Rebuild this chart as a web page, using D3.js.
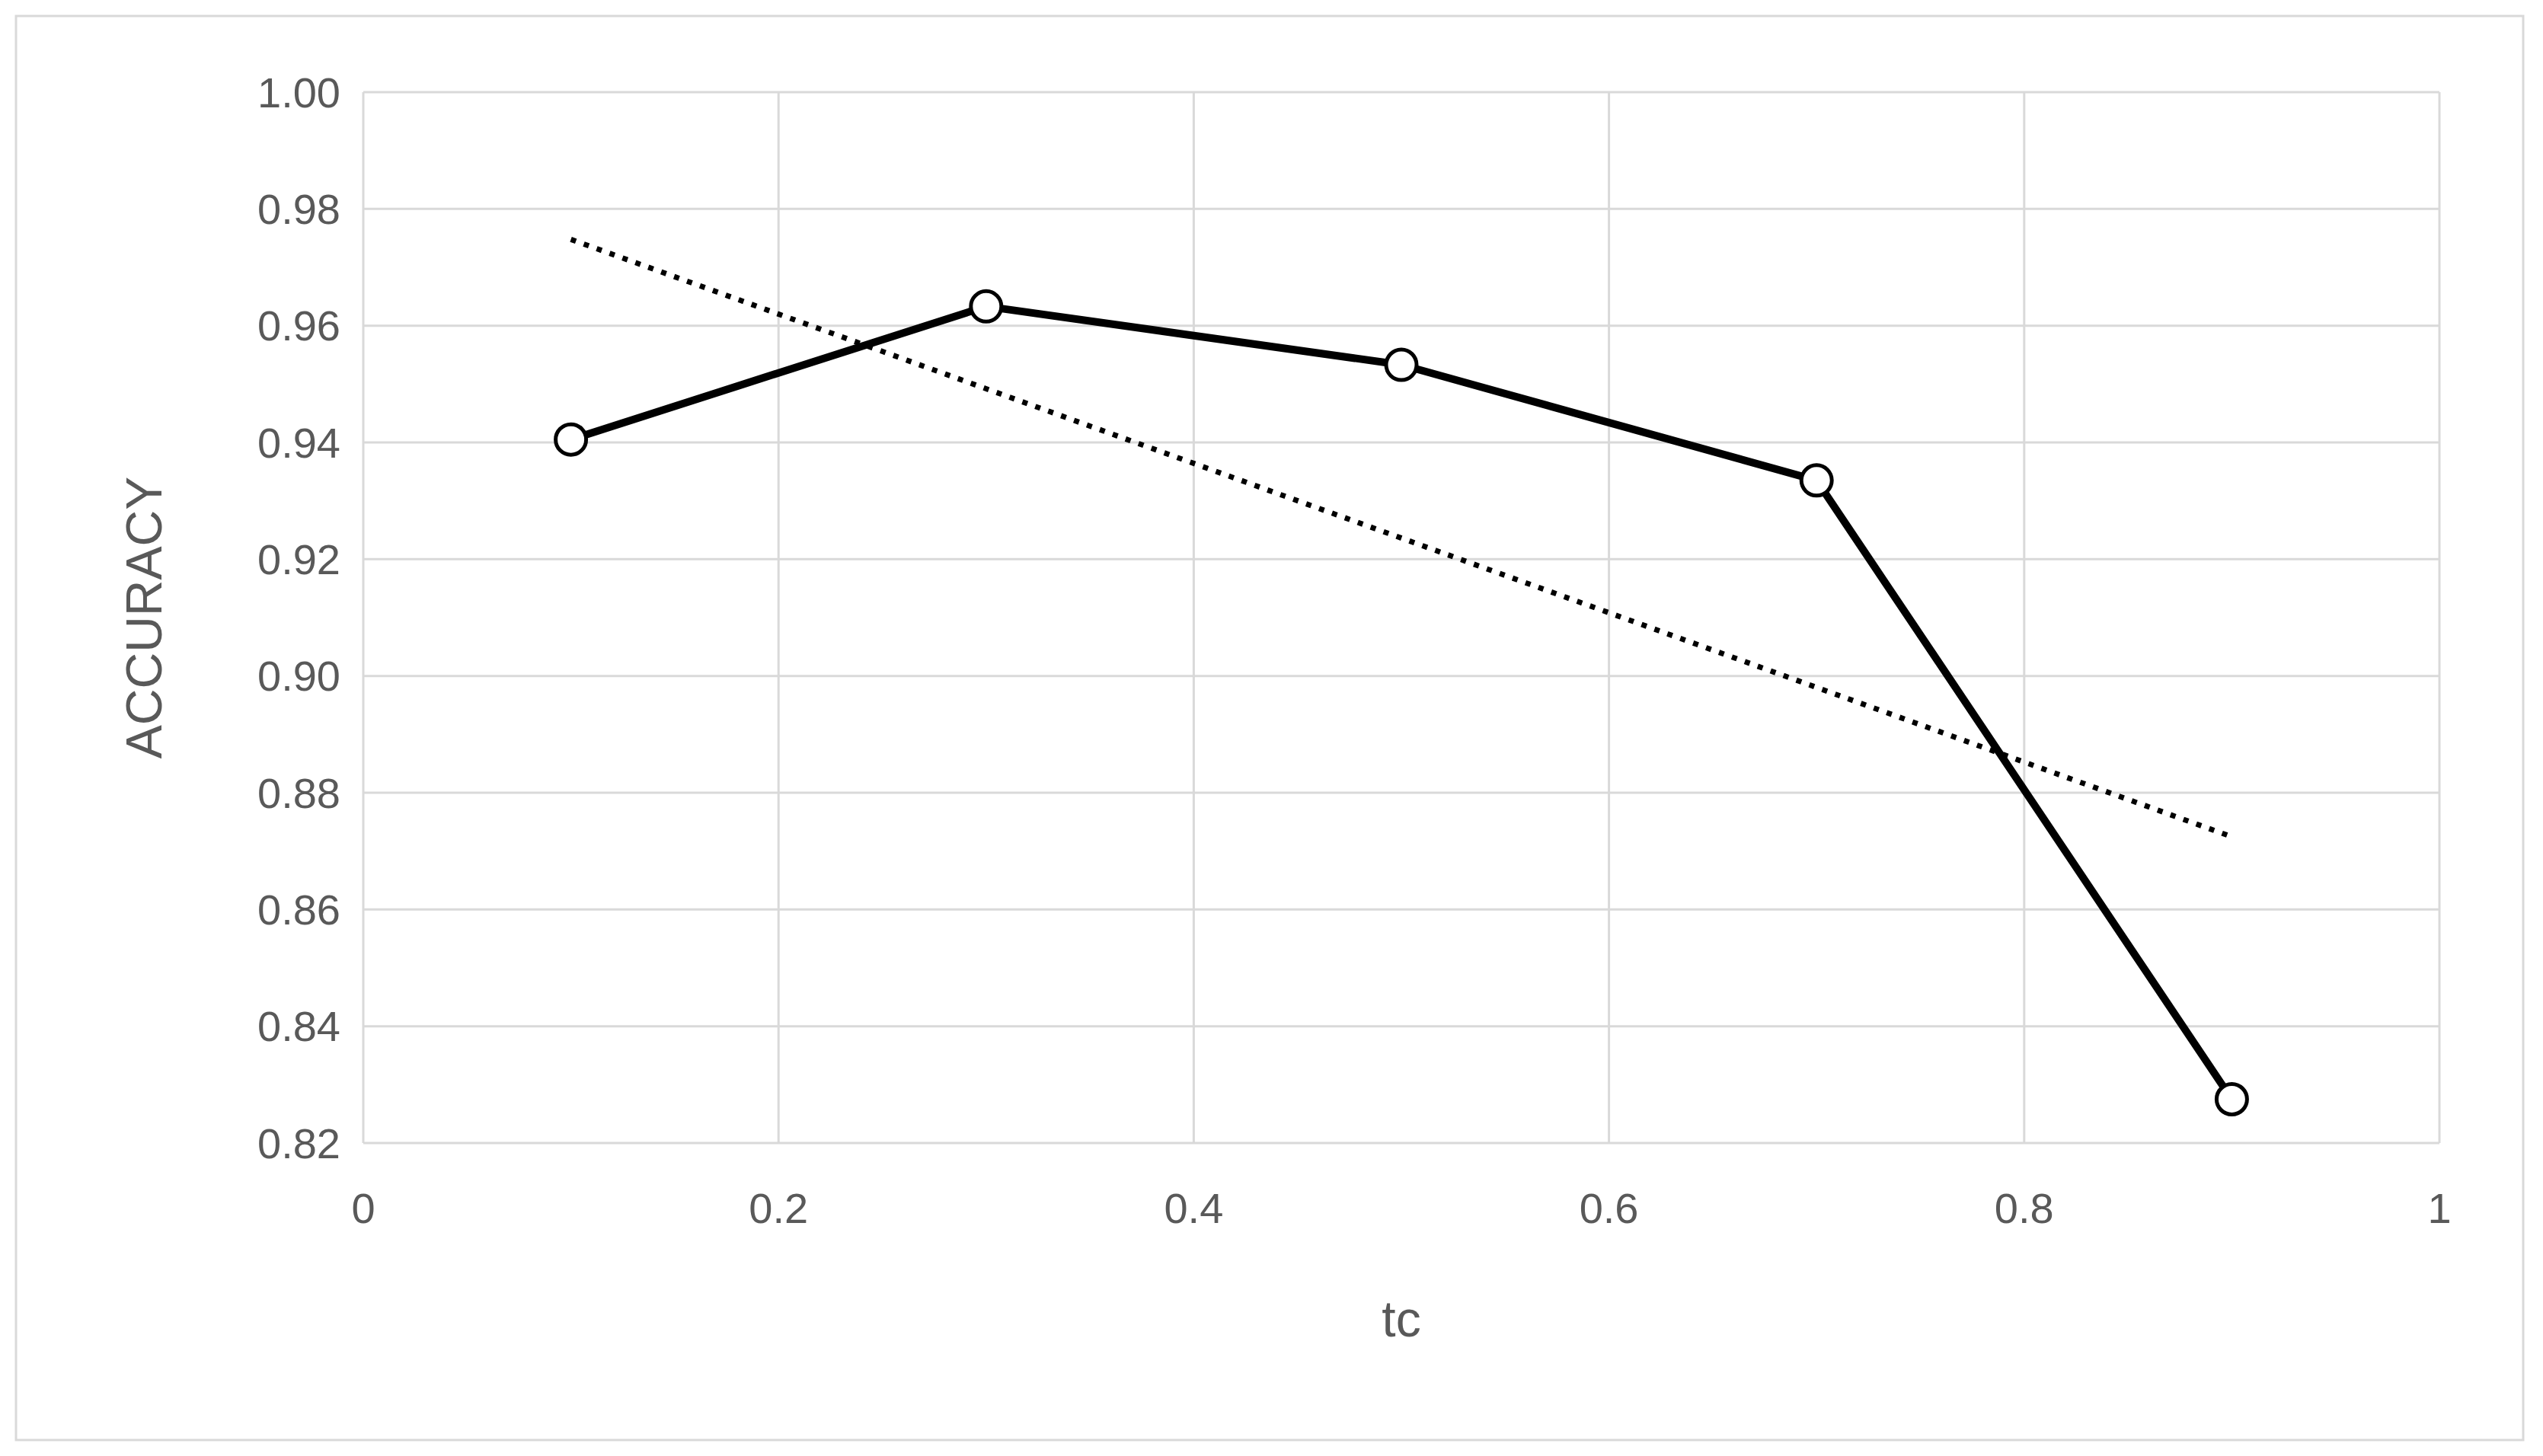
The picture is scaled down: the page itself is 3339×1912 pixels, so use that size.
<!DOCTYPE html>
<html><head><meta charset="utf-8">
<script src="https://cdn.jsdelivr.net/npm/d3@7"></script>
<style>body{margin:0;background:#fff}text{font-family:"Liberation Sans",Lato,sans-serif;fill:#595959}</style>
</head><body><div id="chart"></div>
<script>
const tc = [0.1, 0.3, 0.5, 0.7, 0.9];
const accuracy = [0.9405, 0.9633, 0.9533, 0.9335, 0.8275];
const xTicks = [0, 0.2, 0.4, 0.6, 0.8, 1];
const yTicks = [0.82, 0.84, 0.86, 0.88, 0.90, 0.92, 0.94, 0.96, 0.98, 1.00];

const width = 3339, height = 1912,
      margin = {top: 121, right: 136, bottom: 411, left: 477};

const svg = d3.select("#chart").append("svg")
    .attr("width", width).attr("height", height);

// outer chart border
svg.append("rect").attr("x", 21).attr("y", 21).attr("width", 3292).attr("height", 1870)
    .attr("fill", "none").attr("stroke", "#d9d9d9").attr("stroke-width", 3);

const x = d3.scaleLinear().domain([0, 1]).range([margin.left, width - margin.right]);
const y = d3.scaleLinear().domain([0.82, 1.0]).range([height - margin.bottom, margin.top]);

// grid
svg.append("g").selectAll("line").data(yTicks).join("line")
    .attr("x1", x(0)).attr("x2", x(1)).attr("y1", d => y(d)).attr("y2", d => y(d))
    .attr("stroke", "#d9d9d9").attr("stroke-width", 3);
svg.append("g").selectAll("line").data(xTicks).join("line")
    .attr("y1", y(0.82)).attr("y2", y(1)).attr("x1", d => x(d)).attr("x2", d => x(d))
    .attr("stroke", "#d9d9d9").attr("stroke-width", 3);

// tick labels
svg.append("g").selectAll("text").data(yTicks).join("text")
    .attr("x", x(0) - 30).attr("y", d => y(d)).attr("dy", "0.35em")
    .attr("text-anchor", "end").attr("font-size", 56).text(d => d.toFixed(2));
svg.append("g").selectAll("text").data(xTicks).join("text")
    .attr("x", d => x(d)).attr("y", y(0.82) + 105)
    .attr("text-anchor", "middle").attr("font-size", 56).text(d => d3.format("")(d));

// axis titles
svg.append("text").attr("x", x(0.5)).attr("y", 1755).attr("text-anchor", "middle")
    .attr("font-size", 66).text("tc");
svg.append("text").attr("transform", `translate(212,${y(0.91)}) rotate(-90)`)
    .attr("text-anchor", "middle").attr("font-size", 66).text("ACCURACY");

// linear trendline (least squares)
const mx = d3.mean(tc), my = d3.mean(accuracy);
const slope = d3.sum(tc, (t, i) => (t - mx) * (accuracy[i] - my)) / d3.sum(tc, t => (t - mx) ** 2);
const trend = [tc[0], tc[tc.length - 1]].map(t => [t, my + slope * (t - mx)]);
svg.append("path").attr("d", d3.line().x(d => x(d[0])).y(d => y(d[1]))(trend))
    .attr("fill", "none").attr("stroke", "#000").attr("stroke-width", 7)
    .attr("stroke-dasharray", "7 11");

// series
const pts = tc.map((t, i) => [t, accuracy[i]]);
svg.append("path").attr("d", d3.line().x(d => x(d[0])).y(d => y(d[1]))(pts))
    .attr("fill", "none").attr("stroke", "#000").attr("stroke-width", 10)
    .attr("stroke-linejoin", "round");
svg.append("g").selectAll("circle").data(pts).join("circle")
    .attr("cx", d => x(d[0])).attr("cy", d => y(d[1])).attr("r", 20)
    .attr("fill", "#fff").attr("stroke", "#000").attr("stroke-width", 5);
</script></body></html>
